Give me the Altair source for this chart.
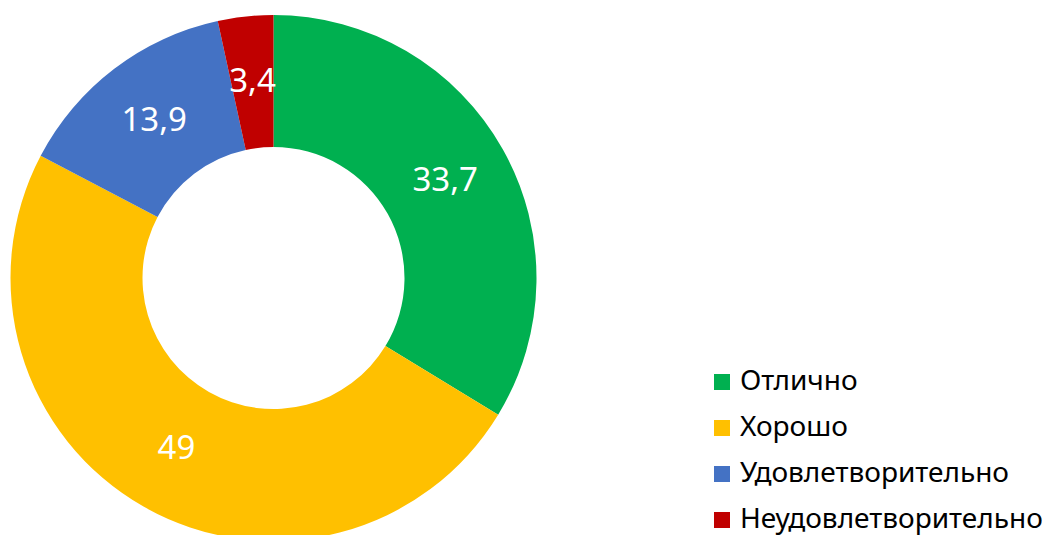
import altair as alt
import pandas as pd

categories = ["Отлично", "Хорошо", "Удовлетворительно", "Неудовлетворительно"]
values = [33.7, 49, 13.9, 3.4]
labels = ["33,7", "49", "13,9", "3,4"]
colors = ["#00B050", "#FFC000", "#4472C4", "#C00000"]

df = pd.DataFrame({
    "cat": categories,
    "val": values,
    "lab": labels,
    "ord": list(range(len(categories))),
})

CX, CY = 265.5, 270
FONT = "Noto Sans"

base = alt.Chart(df).encode(
    theta=alt.Theta("val:Q", stack=True),
    order=alt.Order("ord:Q"),
    x=alt.value(CX),
    y=alt.value(CY),
)

arcs = base.mark_arc(radius=263, radius2=131, stroke=None).encode(
    color=alt.Color(
        "cat:N",
        scale=alt.Scale(domain=categories, range=colors),
        sort=categories,
        legend=alt.Legend(
            title=None,
            orient="none",
            legendX=700,
            legendY=360,
            padding=0,
            symbolType="square",
            symbolSize=256,
            symbolStrokeWidth=0,
            labelFont=FONT,
            labelFontSize=28,
            labelColor="#000000",
            labelOffset=4,
            rowPadding=18,
            labelLimit=400,
        ),
    )
)

text = base.mark_text(radius=197, font=FONT, fontSize=33, color="white").encode(
    text="lab:N"
)

chart = (
    alt.layer(arcs, text)
    .properties(width=1036, height=527, autosize=alt.AutoSizeParams(type="none"), padding=0)
    .configure_view(stroke=None)
)

chart.save("out.html", embed_options={"renderer": "svg", "actions": False})
